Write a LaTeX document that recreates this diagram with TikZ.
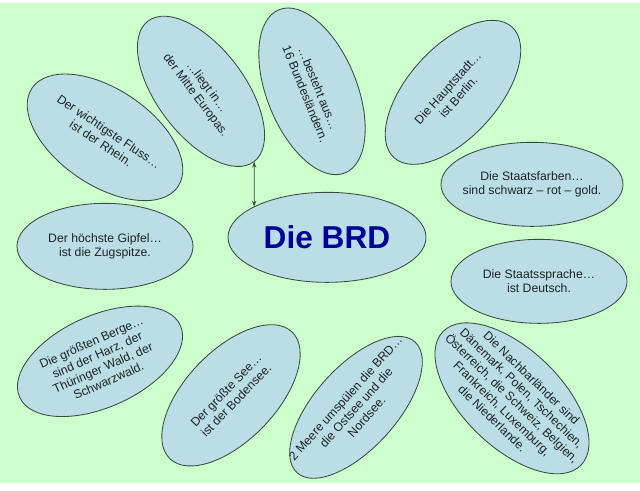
\documentclass[tikz,border=0pt]{standalone}
\usepackage{fontspec}
\setmainfont{Liberation Sans}
\usetikzlibrary{shapes.geometric,arrows.meta}
\definecolor{bgreen}{HTML}{CCFFCC}
\definecolor{bubblefill}{HTML}{B9DEE5}
\definecolor{bubbleline}{HTML}{3A4A40}
\definecolor{brdblue}{HTML}{000099}
\definecolor{bubbletext}{HTML}{222222}

\begin{document}
\begin{tikzpicture}[x=0.025cm, y=0.025cm,
    bubble/.style={ellipse, draw=bubbleline, line width=0.6pt, fill=bubblefill, inner sep=0pt},
    bubbletxt/.style={align=center, text=bubbletext, font=\fontsize{8.7}{10}\selectfont}]
    %% --- background ---
    \fill[bgreen] (0,0) rectangle (640,480);
    %% --- centre: Die BRD ---
    \node[bubble, minimum width=4.95cm, minimum height=2.25cm] (brd) at (327,246) {};
    \node[text=brdblue, font=\fontsize{22.5}{26}\selectfont\bfseries] (brd-txt) at (brd.center) {Die BRD};
    %% --- facts round it ---
    \foreach \nm/\x/\y/\ang/\bw/\bh/\txt in {
        fluss/105/346/-34/4.4/2.4/{Der wichtigste Fluss…\\ist der Rhein.},
        liegt/201/392/-53/4.4/2.2/{…liegt in…\\der Mitte Europas.},
        besteht/312/392/-68/4.4/2.25/{…besteht aus…\\16 Bundesländern.},
        stadt/453/391/48/4.4/2.25/{Die Hauptstadt…\\ist Berlin.},
        farben/532/299/0/4.55/2.1/{Die Staatsfarben…\\sind schwarz – rot – gold.},
        sprache/539/202/0/4.4/2.1/{Die Staatssprache…\\ist Deutsch.},
        nachbarn/512/85/-44/4.8/2.45/{Die Nachbarländer sind\\Dänemark, Polen, Tschechien,\\Österreich, die Schweiz, Belgien,\\Frankreich, Luxemburg,\\die Niederlande.},
        meere/356/76/48/4.4/2.05/{2 Meere umspülen die BRD…\\die Ostsee und die\\Nordsee.},
        see/231/88/46/4.4/2.25/{Der größte See…\\ist der Bodensee.},
        berge/100/122/24/4.4/2.3/{Die größten Berge…\\sind der Harz, der\\Thüringer Wald, der\\Schwarzwald.},
        gipfel/105/237/0/4.4/2.15/{Der höchste Gipfel…\\ist die Zugspitze.}} {
      \node[bubble, rotate=\ang, minimum width=\bw cm, minimum height=\bh cm] (\nm) at (\x,\y) {};
      \node[bubbletxt, rotate=\ang] (\nm-txt) at (\nm.center) {\txt};
    }
    %% --- link ---
    \draw[{Stealth[length=4pt]}-{Stealth[length=4pt]}, line width=0.5pt, bubbleline] (liegt.east) -- (brd.157);
\end{tikzpicture}
\end{document}
